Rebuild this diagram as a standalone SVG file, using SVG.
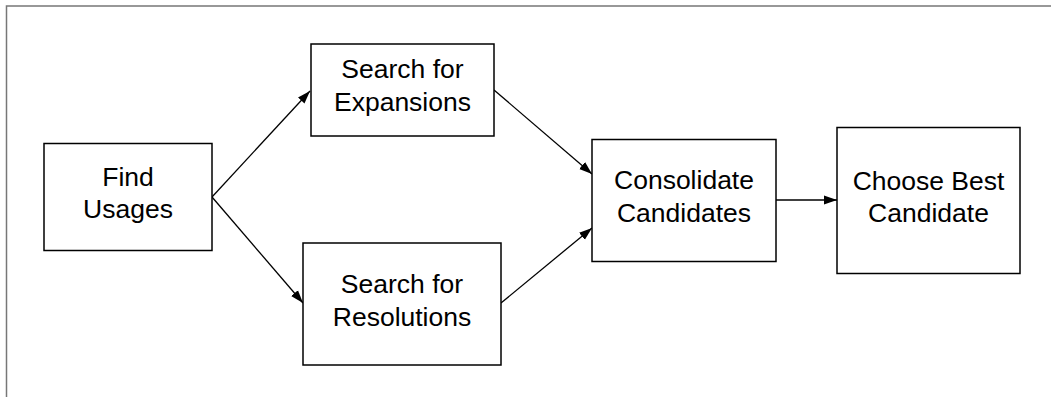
<svg xmlns="http://www.w3.org/2000/svg" width="1051" height="397" viewBox="0 0 1051 397">
<style>
.box{fill:#fff;stroke:#000;stroke-width:1.5}
.lbl{font-family:"Liberation Sans",Arial,sans-serif;font-size:26.5px;fill:#000;text-anchor:middle}
.edge{fill:none;stroke:#000;stroke-width:1.3;marker-end:url(#arr)}
</style>
<defs>
<marker id="arr" viewBox="0 0 13 10" refX="13" refY="5" markerWidth="13" markerHeight="10" markerUnits="userSpaceOnUse" orient="auto">
<path d="M0,0.5 L13,5 L0,9.5 z" fill="#000"/>
</marker>
</defs>
<rect width="1051" height="397" fill="#fff"/>
<path d="M6.5,397 V6 H1051" fill="none" stroke="#777" stroke-width="1.5"/>
<g id="edges">
<line class="edge" x1="212" y1="197" x2="310" y2="91"/>
<line class="edge" x1="212" y1="197" x2="303" y2="303"/>
<line class="edge" x1="494" y1="90" x2="592" y2="174"/>
<line class="edge" x1="501" y1="303" x2="592" y2="228"/>
<line class="edge" x1="776" y1="200" x2="837" y2="200"/>
</g>
<g id="find-usages">
<rect class="box" x="44" y="143.5" width="168" height="107"/>
<text class="lbl" x="128" y="186">Find</text>
<text class="lbl" x="128" y="218">Usages</text>
</g>
<g id="search-expansions">
<rect class="box" x="311" y="44" width="183" height="92"/>
<text class="lbl" x="402.5" y="78">Search for</text>
<text class="lbl" x="402.5" y="111">Expansions</text>
</g>
<g id="search-resolutions">
<rect class="box" x="303" y="243" width="198" height="122"/>
<text class="lbl" x="402" y="293">Search for</text>
<text class="lbl" x="402" y="326">Resolutions</text>
</g>
<g id="consolidate">
<rect class="box" x="592" y="139.5" width="184" height="122"/>
<text class="lbl" x="684" y="189">Consolidate</text>
<text class="lbl" x="684" y="222">Candidates</text>
</g>
<g id="choose-best">
<rect class="box" x="837" y="127.5" width="183" height="146"/>
<text class="lbl" x="928.5" y="190">Choose Best</text>
<text class="lbl" x="928.5" y="222">Candidate</text>
</g>
</svg>
